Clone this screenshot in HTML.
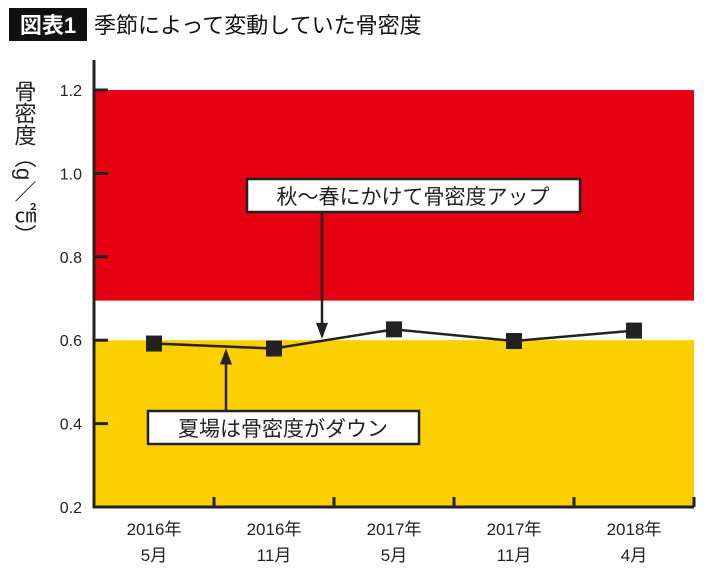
<!DOCTYPE html>
<html><head><meta charset="utf-8"><style>
body{margin:0;background:#fff;font-family:"Liberation Sans","Noto Sans CJK JP",sans-serif}
svg text{font-family:"Liberation Sans","Noto Sans CJK JP",sans-serif}
</style></head><body>
<svg id="c" width="710" height="572" xmlns="http://www.w3.org/2000/svg">
<rect x="9" y="8" width="78" height="33" fill="#111"/>
<text x="48" y="33" font-size="22" font-weight="bold" fill="#fff" text-anchor="middle">図表1</text>
<text x="94" y="33" font-size="22" fill="#111">季節によって変動していた骨密度</text>
<text transform="translate(24,80)" font-size="22" fill="#222" style="writing-mode:vertical-rl" writing-mode="tb">骨密度（g／㎠）</text>
<g id="plot"></g>
</svg>
<script>
const categories1=["2016年","2016年","2017年","2017年","2018年"];
const categories2=["5月","11月","5月","11月","4月"];
const values=[0.592,0.58,0.626,0.598,0.623];
const yTicks=[0.2,0.4,0.6,0.8,1.0,1.2];
const redBand=[0.695,1.2];
const yellowBand=[0.2,0.6];
const ns="http://www.w3.org/2000/svg";
const g=document.getElementById('plot');
const x0=94,x1=694,yMin=0.2,yMax=1.2,py0=507,py1=90;
const y=v=>py0-(v-yMin)/(yMax-yMin)*(py0-py1);
const xc=i=>x0+(x1-x0)/categories1.length*(i+0.5);
function el(t,a){const e=document.createElementNS(ns,t);for(const k in a)e.setAttribute(k,a[k]);g.appendChild(e);return e;}
let r=el('rect',{x:x0,y:y(redBand[1]),width:x1-x0,height:y(redBand[0])-y(redBand[1]),fill:'#e60012'});


r=el('rect',{x:x0,y:y(yellowBand[1]),width:x1-x0,height:y(yellowBand[0])-y(yellowBand[1]),fill:'#fcd000'});


let a=el('line',{x1:x0,y1:60,x2:x0,y2:py0+1,stroke:'#222','stroke-width':3});


a=el('line',{x1:x0-1,y1:py0,x2:x1,y2:py0,stroke:'#222','stroke-width':3});


yTicks.forEach(v=>{
 const t=el('line',{x1:x0,y1:y(v),x2:x0+14,y2:y(v),stroke:'#222','stroke-width':3});
 
 
 const l=el('text',{x:x0-12,y:y(v)+6,'font-size':16,'text-anchor':'end',fill:'#222'});
 l.textContent=v.toFixed(1);
 
 
});
categories1.forEach((c,i)=>{
 const bx=x0+(x1-x0)/categories1.length*(i+1);
 const t=el('line',{x1:bx,y1:py0,x2:bx,y2:py0-10,stroke:'#222','stroke-width':3});
 
 
 const l=el('text',{x:xc(i),y:535,'font-size':17,'text-anchor':'middle',fill:'#222'});
 l.textContent=c;
 
 
 const l2=el('text',{x:xc(i),y:561,'font-size':17,'text-anchor':'middle',fill:'#222'});
 l2.textContent=categories2[i];
 
 
});
const ln=el('polyline',{points:values.map((v,i)=>xc(i)+','+y(v)).join(' '),fill:'none',stroke:'#222','stroke-width':2.5});


values.forEach((v,i)=>{
 const p=el('rect',{x:xc(i)-8,y:y(v)-8,width:16,height:16,fill:'#222'});
 
 
});
// annotations: arrows point at the line at fractional positions between points
const lineY=(i,f)=>y(values[i]+(values[i+1]-values[i])*f);
const dnx=xc(1)+(xc(2)-xc(1))*0.4, upx=xc(0)+(xc(1)-xc(0))*0.6;
const dny=lineY(1,0.4), upy=lineY(0,0.6);
a=el('line',{x1:dnx,y1:212,x2:dnx,y2:dny-12,stroke:'#222','stroke-width':2.5});


a=el('polygon',{points:`${dnx-6},${dny-18} ${dnx+6},${dny-18} ${dnx},${dny-2}`,fill:'#222'});


a=el('line',{x1:upx,y1:411,x2:upx,y2:upy+12,stroke:'#222','stroke-width':2.5});


a=el('polygon',{points:`${upx-6},${upy+18} ${upx+6},${upy+18} ${upx},${upy+2}`,fill:'#222'});


let b=el('rect',{x:247,y:179,width:333,height:33,fill:'#fff',stroke:'#222','stroke-width':2.5});


let t=el('text',{x:413,y:204,'font-size':21,'text-anchor':'middle',fill:'#222'});
t.textContent='秋〜春にかけて骨密度アップ';


b=el('rect',{x:148,y:411,width:271,height:33,fill:'#fff',stroke:'#222','stroke-width':2.5});


t=el('text',{x:283,y:436,'font-size':21,'text-anchor':'middle',fill:'#222'});
t.textContent='夏場は骨密度がダウン';


</script>
</body></html>
